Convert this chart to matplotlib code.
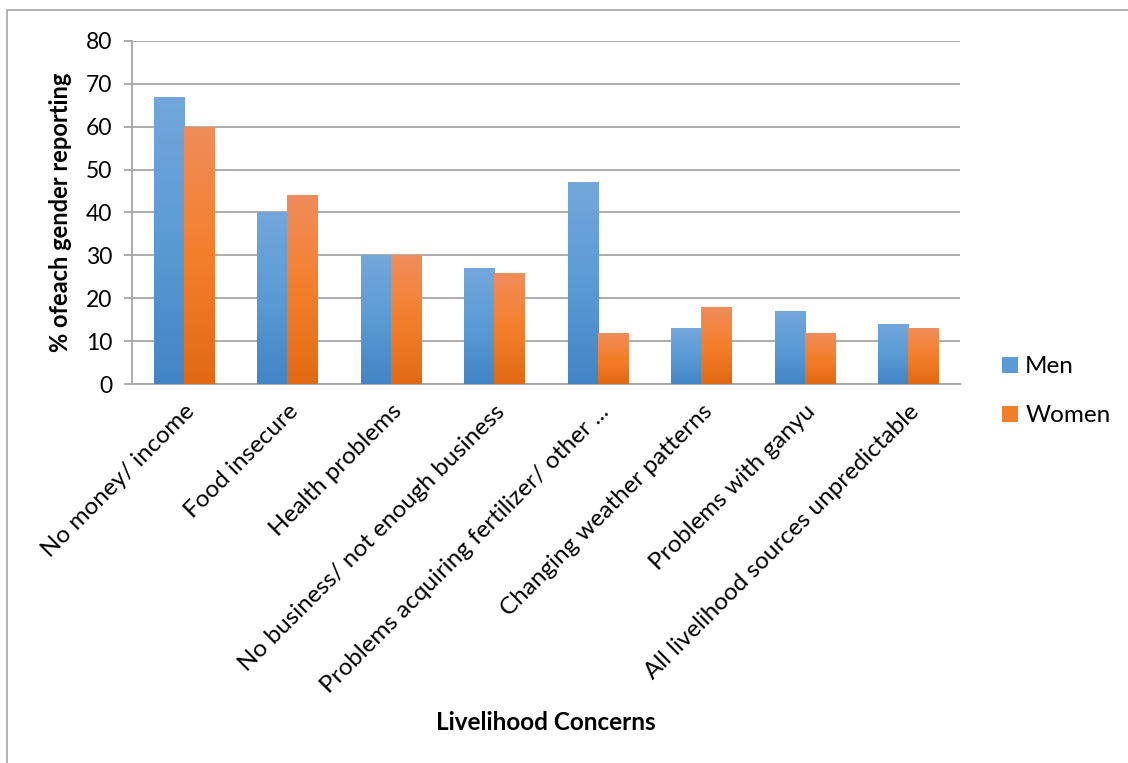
import numpy as np
import matplotlib
matplotlib.use("Agg")
import matplotlib.pyplot as plt
from matplotlib.colors import LinearSegmentedColormap
from matplotlib.patches import Rectangle, Patch

plt.rcParams['font.family'] = ['Lato', 'DejaVu Sans']

categories = ["No money/ income", "Food insecure", "Health problems",
              "No business/ not enough business",
              "Problems acquiring fertilizer/ other ...",
              "Changing weather patterns", "Problems with ganyu",
              "All livelihood sources unpredictable"]
men = [67, 40, 30, 27, 47, 13, 17, 14]
women = [60, 44, 30, 26, 12, 18, 12, 13]
y_ticks = [0, 10, 20, 30, 40, 50, 60, 70, 80]

# bottom -> top shading for each series
blue_grad = LinearSegmentedColormap.from_list("b", ["#4285C6", "#5B9BD5", "#73A7DC"])
orange_grad = LinearSegmentedColormap.from_list("o", ["#E26914", "#F47F2B", "#F08D5B"])

fig = plt.figure(figsize=(11.28, 7.63), dpi=100)
ax = fig.add_axes([0.117, 0.4967, 0.734, 0.4496])

x = np.arange(len(categories))
w = 0.29
bars_m = ax.bar(x - w / 2, men, w, color="#5B9BD5", zorder=3)
bars_w = ax.bar(x + w / 2, women, w, color="#F47F2B", zorder=3)

grad = np.linspace(0, 1, 256).reshape(-1, 1)
for bars, cmap in ((bars_m, blue_grad), (bars_w, orange_grad)):
    for p in bars:
        x0, h, bw = p.get_x(), p.get_height(), p.get_width()
        im = ax.imshow(grad, cmap=cmap, origin="lower", aspect="auto",
                       extent=[x0, x0 + bw, 0, h], zorder=3)
        im.set_clip_path(p)
        p.set_facecolor("none")

ax.set_xlim(-0.5, len(categories) - 0.5)
ax.set_ylim(0, 80)
ax.set_yticks(y_ticks)
ax.yaxis.grid(True, color="#A6A6A6", linewidth=1.3, zorder=0)
ax.set_axisbelow(True)
for s in ("top", "right"):
    ax.spines[s].set_visible(False)
for s in ("left", "bottom"):
    ax.spines[s].set_color("#A6A6A6")
    ax.spines[s].set_linewidth(1.3)
ax.tick_params(axis="y", length=6, width=1.3, color="#A6A6A6",
               labelsize=16.5, pad=8)
ax.tick_params(axis="x", length=0, labelsize=17.5, pad=12)
ax.set_xticks(x)
ax.set_xticklabels(categories, rotation=45, ha="right", va="top",
                   rotation_mode="anchor")

fig.text(0.0535, 0.7215, "% ofeach gender reporting", rotation=90,
         ha="center", va="center", fontsize=17, fontweight="bold")
fig.text(0.484, 0.0537, "Livelihood Concerns", ha="center", va="center",
         fontsize=17.5, fontweight="bold")

handles = [Patch(facecolor="#5B9BD5"), Patch(facecolor="#F47F2B")]
fig.legend(handles, ["Men", "Women"], loc="center left",
           bbox_to_anchor=(0.869, 0.487), frameon=False, fontsize=17.5,
           handlelength=0.65, handleheight=0.65, handletextpad=0.3,
           labelspacing=1.15)

# chart-area border
fig.patches.append(Rectangle((0.0062, -0.05), 1.05, 1.037,
                             transform=fig.transFigure, fill=False,
                             edgecolor="#A6A6A6", linewidth=1.2))

fig.savefig("out.png", dpi=100)
